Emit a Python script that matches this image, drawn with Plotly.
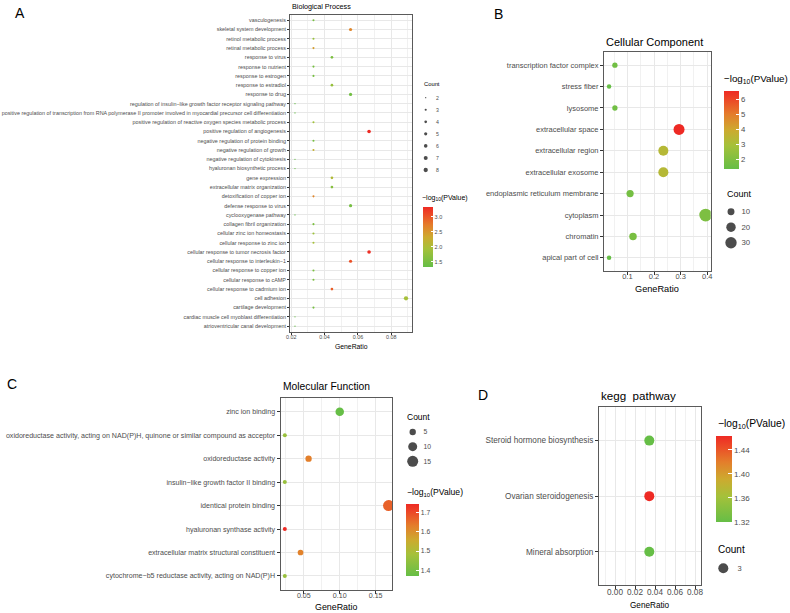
import numpy as np
import plotly.graph_objects as go

W, H = 790, 613
FONT = "Liberation Sans, Arial, sans-serif"
GREY = "#4d4d4d"
BORDER = "#5a5a5a"
GRID = "#e8e8e8"
GRID_MINOR = "#f1f1f1"

# ---------------- data ----------------
bp_terms = [
    "vasculogenesis", "skeletal system development", "retinol metabolic process",
    "retinal metabolic process", "response to virus", "response to nutrient",
    "response to estrogen", "response to estradiol", "response to drug",
    "regulation of insulin\u2212like growth factor receptor signaling pathway",
    "positive regulation of transcription from RNA polymerase II promoter involved in myocardial precursor cell differentiation",
    "positive regulation of reactive oxygen species metabolic process",
    "positive regulation of angiogenesis", "negative regulation of protein binding",
    "negative regulation of growth", "negative regulation of cytokinesis",
    "hyaluronan biosynthetic process", "gene expression", "extracellular matrix organization",
    "detoxification of copper ion", "defense response to virus", "cyclooxygenase pathway",
    "collagen fibril organization", "cellular zinc ion homeostasis", "cellular response to zinc ion",
    "cellular response to tumor necrosis factor", "cellular response to interleukin\u22121",
    "cellular response to copper ion", "cellular response to cAMP", "cellular response to cadmium ion",
    "cell adhesion", "cartilage development", "cardiac muscle cell myoblast differentiation",
    "atrioventricular canal development"]
bp_count = [3, 5, 3, 3, 4, 3, 3, 4, 5, 2, 2, 3, 6, 3, 3, 2, 2, 4, 4, 3, 5, 2, 3, 3, 3, 6, 5, 3, 3, 4, 8, 3, 2, 2]
bp_ratio = [0.0333, 0.0556, 0.0333, 0.0333, 0.0444, 0.0333, 0.0333, 0.0444, 0.0556, 0.0222,
            0.0222, 0.0333, 0.0667, 0.0333, 0.0333, 0.0222, 0.0222, 0.0444, 0.0444, 0.0333,
            0.0556, 0.0222, 0.0333, 0.0333, 0.0333, 0.0667, 0.0556, 0.0333, 0.0333, 0.0444,
            0.0889, 0.0333, 0.0222, 0.0222]
bp_logp = [1.50, 2.65, 1.80, 2.45, 1.55, 1.50, 1.50, 1.80, 1.45, 1.34,
           1.34, 1.90, 3.33, 1.50, 2.25, 1.34, 1.34, 2.05, 1.65, 2.65,
           1.50, 1.34, 1.55, 1.85, 1.95, 3.30, 3.05, 1.55, 1.55, 2.95,
           1.95, 1.50, 1.34, 1.34]

cc_terms = ["transcription factor complex", "stress fiber", "lysosome", "extracellular space",
            "extracellular region", "extracellular exosome", "endoplasmic reticulum membrane",
            "cytoplasm", "chromatin", "apical part of cell"]
cc_ratio = [0.053, 0.031, 0.053, 0.294, 0.235, 0.235, 0.110, 0.394, 0.121, 0.031]
cc_count = [5, 3, 5, 28, 23, 23, 11, 38, 12, 3]
cc_logp = [1.65, 1.37, 1.65, 6.60, 3.35, 3.35, 1.75, 1.95, 1.85, 1.37]

mf_terms = ["zinc ion binding",
            "oxidoreductase activity, acting on NAD(P)H, quinone or similar compound as acceptor",
            "oxidoreductase activity", "insulin\u2212like growth factor II binding",
            "identical protein binding", "hyaluronan synthase activity",
            "extracellular matrix structural constituent",
            "cytochrome\u2212b5 reductase activity, acting on NAD(P)H"]
mf_ratio = [0.100, 0.0235, 0.0566, 0.0235, 0.168, 0.0235, 0.0454, 0.0235]
mf_count = [9, 2, 5, 2, 15, 2, 4, 2]
mf_logp = [1.37, 1.46, 1.63, 1.46, 1.67, 1.745, 1.625, 1.46]

kegg_terms = ["Steroid hormone biosynthesis", "Ovarian steroidogenesis", "Mineral absorption"]
kegg_ratio = [0.0343, 0.0343, 0.0343]
kegg_count = [3, 3, 3]
kegg_logp = [1.32, 1.463, 1.32]

bp_size_breaks = [2, 3, 4, 5, 6, 7, 8]
cc_size_breaks = [10, 20, 30]
mf_size_breaks = [5, 10, 15]
kegg_size_breaks = [3]

bp_cbar_ticks = [1.5, 2.0, 2.5, 3.0]
cc_cbar_ticks = [2, 3, 4, 5, 6]
mf_cbar_ticks = [1.4, 1.5, 1.6, 1.7]
kegg_cbar_ticks = [1.32, 1.36, 1.40, 1.44]

bp_xticks = [0.02, 0.04, 0.06, 0.08]
cc_xticks = [0.1, 0.2, 0.3, 0.4]
mf_xticks = [0.05, 0.10, 0.15]
kegg_xticks = [0.00, 0.02, 0.04, 0.06, 0.08]

CS = [[0.0, "#66BE46"], [0.3, "#A5C13A"], [0.5, "#CDAA2F"],
      [0.7, "#E47D2B"], [0.88, "#EC4A27"], [1.0, "#EE2A24"]]


def area_size(counts, lo, hi, dmin, dmax):
    c = np.asarray(counts, dtype=float)
    if hi > lo:
        t = (c - lo) / (hi - lo)
    else:
        t = np.full_like(c, 0.5)
    return np.sqrt(dmin ** 2 + t * (dmax ** 2 - dmin ** 2))


fig = go.Figure()
layout = dict(width=W, height=H, margin=dict(l=0, r=0, t=0, b=0, pad=0), autosize=False,
              template="none",
              paper_bgcolor="white", plot_bgcolor="white", showlegend=False,
              font=dict(family=FONT, color=GREY))
annotations = []


def ann(text, x, y, size, color="black", xanchor="left", yanchor="middle"):
    annotations.append(dict(text=text, x=x / W, y=1 - y / H, xref="paper", yref="paper",
                            xanchor=xanchor, yanchor=yanchor, showarrow=False,
                            font=dict(family=FONT, size=size, color=color)))


def panel(i, terms, ratio, count, logp, box, xrange, xticks, xfmt, minor_dtick,
          tfs, ticklen, xstand, dsize, cbox, cticks, cfmt, cfs,
          breaks, leg_cx, leg_ys, leg_lx, leg_fs, title, title_y, title_fs,
          xt_y, xt_fs, cb_title_xy, cb_title_fs, count_xy, count_fs):
    s = "" if i == 1 else str(i)
    x0, x1, y0, y1 = box
    n = len(terms)
    lo, hi = min(count), max(count)
    sizes = area_size(count, lo, hi, dsize[0], dsize[1])
    cmin, cmax = min(logp), max(logp)
    fig.add_trace(go.Scatter(
        x=ratio, y=terms, mode="markers", xaxis="x" + s, yaxis="y" + s,
        marker=dict(size=sizes, color=logp, coloraxis="coloraxis" + s, line=dict(width=0), opacity=1),
        hoverinfo="x+y"))
    layout["xaxis" + s] = dict(
        domain=[x0 / W, x1 / W], range=xrange, anchor="y" + s,
        tickvals=xticks, ticktext=[xfmt.format(v) for v in xticks],
        tickfont=dict(size=tfs, color=GREY, family=FONT), ticklabelstandoff=xstand,
        ticks="outside", ticklen=ticklen, tickcolor="#333333", tickwidth=0.8,
        showline=True, mirror=True, linecolor=BORDER, linewidth=1,
        showgrid=True, gridcolor=GRID, gridwidth=0.8, zeroline=False,
        minor=dict(dtick=minor_dtick, tick0=0, showgrid=True, gridcolor=GRID_MINOR, gridwidth=0.6))
    layout["yaxis" + s] = dict(
        domain=[1 - y1 / H, 1 - y0 / H], type="category", categoryorder="array",
        categoryarray=terms, range=[n - 1 + 0.6, -0.6], anchor="x" + s,
        tickfont=dict(size=tfs, color=GREY, family=FONT),
        ticks="outside", ticklen=ticklen, tickcolor="#333333", tickwidth=0.8,
        showline=True, mirror=True, linecolor=BORDER, linewidth=1,
        showgrid=True, gridcolor=GRID, gridwidth=0.8, zeroline=False)
    cx, cy, cth, clen = cbox
    layout["coloraxis" + s] = dict(
        colorscale=CS, cmin=cmin - 1e-6, cmax=cmax + 1e-6,
        colorbar=dict(x=cx / W, xanchor="left", xpad=0, y=1 - cy / H, yanchor="top", ypad=0,
                      thickness=cth, thicknessmode="pixels", len=clen, lenmode="pixels",
                      outlinewidth=0, ticks="inside", ticklen=max(2, cth * 0.2),
                      tickcolor="white", tickwidth=1,
                      tickvals=cticks, ticktext=[cfmt.format(v) for v in cticks],
                      tickfont=dict(size=cfs, color=GREY, family=FONT), title=dict(text="")))
    # size legend
    j = i + 4
    ls = str(j)
    lsizes = area_size(breaks, lo, hi, dsize[0], dsize[1])
    labels = [str(b) for b in breaks]
    fig.add_trace(go.Scatter(
        x=[0] * len(breaks), y=labels, mode="markers", xaxis="x" + ls, yaxis="y" + ls,
        marker=dict(size=lsizes, color="black", line=dict(width=0)), hoverinfo="skip"))
    step = (leg_ys[-1] - leg_ys[0]) / (len(leg_ys) - 1) if len(leg_ys) > 1 else 16
    half = leg_lx - 2 - leg_cx
    layout["xaxis" + ls] = dict(domain=[(leg_cx - half) / W, (leg_cx + half) / W], range=[-1, 1],
                                visible=False, anchor="y" + ls, fixedrange=True)
    layout["yaxis" + ls] = dict(domain=[1 - (leg_ys[-1] + step / 2) / H, 1 - (leg_ys[0] - step / 2) / H],
                                type="category", categoryorder="array", categoryarray=labels,
                                range=[len(breaks) - 0.5, -0.5], side="right", anchor="x" + ls,
                                showgrid=False, showline=False, zeroline=False, ticks="",
                                tickfont=dict(size=leg_fs, color=GREY, family=FONT), fixedrange=True)
    # texts
    ann(title, x0, title_y, title_fs)
    ann("GeneRatio", (x0 + x1) / 2, xt_y, xt_fs, xanchor="center")
    ann("\u2212log<sub>10</sub>(PValue)", cb_title_xy[0], cb_title_xy[1], cb_title_fs)
    ann("Count", count_xy[0], count_xy[1], count_fs)


# Panel A
panel(1, bp_terms, bp_ratio, bp_count, bp_logp,
      box=(290, 412, 14.7, 331.7), xrange=[0.0192, 0.0925], xticks=bp_xticks, xfmt="{:.2f}",
      minor_dtick=0.01, tfs=5.4, ticklen=2, xstand=-2, dsize=(1.3, 4.3),
      cbox=(422.7, 206.7, 10, 60), cticks=bp_cbar_ticks, cfmt="{:.1f}", cfs=5.5,
      breaks=bp_size_breaks, leg_cx=425.7, leg_ys=[97.7, 110, 122, 133.3, 145.7, 157.7, 170],
      leg_lx=437, leg_fs=5.2, title="Biological Process", title_y=6.5, title_fs=7.2,
      xt_y=346, xt_fs=6.8, cb_title_xy=(420, 197.5), cb_title_fs=7, count_xy=(422.5, 83.5), count_fs=5.8)

# Panel B
panel(2, cc_terms, cc_ratio, cc_count, cc_logp,
      box=(604, 710.7, 52.3, 270.7), xrange=[0.012, 0.413], xticks=cc_xticks, xfmt="{:.1f}",
      minor_dtick=0.05, tfs=7.5, ticklen=3, xstand=-5, dsize=(4.5, 12.7),
      cbox=(724.3, 90.7, 15, 78), cticks=cc_cbar_ticks, cfmt="{:d}", cfs=7.8,
      breaks=cc_size_breaks, leg_cx=731, leg_ys=[211.7, 227, 242.7],
      leg_lx=742.5, leg_fs=7.8, title="Cellular Component", title_y=41.7, title_fs=11,
      xt_y=289.3, xt_fs=9.2, cb_title_xy=(722, 79.5), cb_title_fs=9.8, count_xy=(724.5, 194.3), count_fs=9)

# Panel C
panel(3, mf_terms, mf_ratio, mf_count, mf_logp,
      box=(280.5, 392, 397.7, 590), xrange=[0.0175, 0.1728], xticks=mf_xticks, xfmt="{:.2f}",
      minor_dtick=0.025, tfs=7.1, ticklen=3, xstand=-5, dsize=(4.0, 11.0),
      cbox=(406, 504, 13, 72), cticks=mf_cbar_ticks, cfmt="{:.1f}", cfs=6.8,
      breaks=mf_size_breaks, leg_cx=412.7, leg_ys=[432, 446.7, 461.3],
      leg_lx=424.5, leg_fs=6.8, title="Molecular Function", title_y=386.7, title_fs=10.3,
      xt_y=606.5, xt_fs=8.9, cb_title_xy=(405, 492.7), cb_title_fs=8.6, count_xy=(405.5, 416.7), count_fs=8.5)

# Panel D
panel(4, kegg_terms, kegg_ratio, kegg_count, kegg_logp,
      box=(599, 700.7, 407.3, 585), xrange=[-0.016, 0.0857], xticks=kegg_xticks, xfmt="{:.2f}",
      minor_dtick=0.01, tfs=8.2, ticklen=3, xstand=-4, dsize=(10, 10),
      cbox=(716, 436, 16, 85.7), cticks=kegg_cbar_ticks, cfmt="{:.2f}", cfs=8,
      breaks=kegg_size_breaks, leg_cx=723.3, leg_ys=[568.3],
      leg_lx=738.5, leg_fs=7.5, title="kegg\u00a0 pathway", title_y=395, title_fs=11.6,
      xt_y=605, xt_fs=8.2, cb_title_xy=(716, 424), cb_title_fs=10.3, count_xy=(716, 549.3), count_fs=10)

# panel letters
ann("A", 12.5, 13.5, 14)
ann("B", 491.5, 14.5, 14)
ann("C", 4.5, 383.5, 14)
ann("D", 475.5, 395, 14)

layout["annotations"] = annotations
fig.update_layout(**layout)
fig.write_html(
    "out.html",
    config={"displayModeBar": False},
    post_script="document.body.style.margin='0px';document.body.style.padding='0px';"
                "document.body.style.overflow='hidden';")
